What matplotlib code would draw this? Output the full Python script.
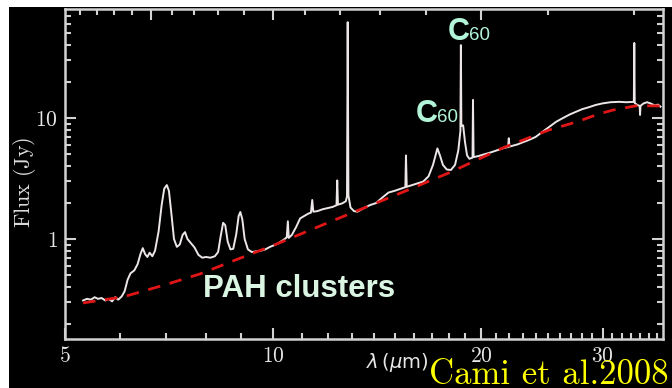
import numpy as np
import matplotlib.pyplot as plt
from matplotlib.patches import Rectangle
from matplotlib.ticker import FixedLocator, FixedFormatter, NullFormatter

plt.rcParams['mathtext.fontset'] = 'cm'

# IRS spectrum of Tc 1: wavelength (micron) and flux (Jy)
wave = [5.31, 5.38, 5.45, 5.52, 5.58, 5.65, 5.72, 5.78, 5.85, 5.91, 5.97, 6.04,
        6.10, 6.16, 6.22, 6.30, 6.37, 6.43, 6.48, 6.53, 6.58, 6.63, 6.69, 6.75,
        6.83, 6.90, 6.96, 7.02, 7.07, 7.13, 7.19, 7.26, 7.33, 7.40, 7.46, 7.52,
        7.60, 7.70, 7.80, 7.90, 8.00, 8.12, 8.24, 8.33, 8.40, 8.47, 8.53, 8.60,
        8.68, 8.76, 8.85, 8.92, 8.97, 9.03, 9.10, 9.20, 9.32, 9.45, 9.60, 9.75,
        9.90, 10.05, 10.20, 10.35, 10.47, 10.51, 10.54, 10.65, 10.80, 10.95,
        11.10, 11.25, 11.35, 11.40, 11.44, 11.60, 11.80, 12.00, 12.20, 12.36,
        12.39, 12.42, 12.60, 12.75, 12.80, 12.83, 12.86, 12.95, 13.10, 13.25,
        13.50, 13.80, 14.10, 14.40, 14.70, 15.00, 15.30, 15.55, 15.58, 15.62,
        16.00, 16.50, 16.80, 17.05, 17.30, 17.45, 17.62, 17.85, 18.10, 18.35,
        18.55, 18.68, 18.71, 18.74, 18.85, 18.97, 19.10, 19.25, 19.45, 19.48,
        19.52, 19.85, 20.20, 20.55, 21.10, 21.60, 21.90, 21.95, 22.00, 22.60,
        23.00, 23.50, 24.00, 24.50, 25.10, 25.70, 26.30, 26.90, 27.40, 28.00,
        28.70, 29.30, 30.00, 30.80, 31.70, 32.50, 33.30, 33.35, 33.40, 33.70,
        33.95, 34.00, 34.05, 34.40, 34.80, 35.20, 35.70, 36.10, 36.40]
flux = [0.31, 0.32, 0.315, 0.33, 0.32, 0.325, 0.31, 0.32, 0.305, 0.33, 0.315, 0.335,
        0.37, 0.46, 0.52, 0.55, 0.62, 0.75, 0.84, 0.75, 0.71, 0.77, 0.72, 0.80,
        1.15, 1.9, 2.6, 2.79, 2.5, 1.6, 1.0, 0.86, 0.90, 1.08, 1.14, 1.0,
        0.93, 0.85, 0.74, 0.70, 0.71, 0.70, 0.72, 0.78, 1.05, 1.36, 1.3, 0.95,
        0.82, 0.83, 1.1, 1.55, 1.67, 1.45, 1.0, 0.82, 0.78, 0.79, 0.80, 0.82,
        0.86, 0.89, 0.93, 0.98, 1.03, 1.40, 1.02, 1.08, 1.25, 1.48,
        1.55, 1.62, 1.65, 2.10, 1.68, 1.70, 1.76, 1.80, 1.84, 1.90,
        3.05, 1.92, 1.97, 2.05, 2.25, 62.0, 2.3, 1.82, 1.70, 1.68,
        1.78, 1.90, 1.98, 2.2, 2.42, 2.50, 2.60, 2.68, 4.9, 2.70,
        2.82, 2.98, 3.3, 4.1, 5.6, 4.9, 4.1, 3.75, 3.72, 4.1,
        5.4, 7.8, 40.0, 8.6, 8.7, 6.3, 4.9, 4.6, 4.7, 14.1,
        4.75, 4.85, 5.0, 5.14, 5.4, 5.65, 5.76, 6.8, 5.8, 6.05,
        6.3, 6.6, 6.97, 7.6, 8.4, 9.3, 10.0, 10.7, 11.2, 11.8,
        12.3, 12.8, 13.2, 13.5, 13.6, 13.5, 13.6, 41.7, 13.3, 12.8,
        12.6, 10.6, 12.6, 13.2, 13.5, 13.2, 12.7, 12.9, 12.4]

# dust continuum
cont_wave = [5.31, 6.07, 7.0, 7.84, 9.0, 10.13, 12.0, 15.42, 18.1, 21.5, 25.1,
             27.5, 29.5, 31.0, 33.5, 36.4]
cont_flux = [0.296, 0.332, 0.42, 0.514, 0.70, 0.909, 1.36, 2.44, 3.58, 5.65, 7.96,
             9.27, 10.7, 11.6, 12.6, 12.6]

x_major = [5, 10, 20, 30]
x_minor = [w for w in range(6, 37) if w not in x_major]
y_major = [1, 10]
y_minor = [0.2, 0.3, 0.4, 0.5, 0.6, 0.7, 0.8, 0.9,
           2, 3, 4, 5, 6, 7, 8, 9, 20, 30, 40, 50, 60, 70]
# wavenumber ticks (cm^-1) along the top edge
k_major = [1500, 1000, 500]
k_minor = [k for k in range(300, 2000, 100) if k not in k_major]

fg = '#d2d2d2'
txt = '#e6e6e6'

fig = plt.figure(figsize=(6.72, 3.88), dpi=100, facecolor='white')
fig.patches.append(Rectangle((9 / 672, 0), 1, 381 / 388, transform=fig.transFigure,
                             facecolor='black', edgecolor='none', zorder=-10))

ax = fig.add_axes([65 / 672, 49 / 388, 598 / 672, 330 / 388])
ax.set_facecolor('black')
ax.set_xscale('log')
ax.set_yscale('log')
ax.set_xlim(5, 36.7)
ax.set_ylim(0.149, 79.6)

ax.plot(wave, flux, color='#ece6e6', lw=1.4, zorder=3)
ax.plot(cont_wave, cont_flux, color='#e01515', lw=2.0, dashes=(4.5, 3.5), zorder=4)

for s in ax.spines.values():
    s.set_color(fg)
    s.set_linewidth(1.8)

ax.xaxis.set_major_locator(FixedLocator(x_major))
ax.xaxis.set_major_formatter(FixedFormatter([r'$\mathrm{%d}$' % v for v in x_major]))
ax.xaxis.set_minor_locator(FixedLocator(x_minor))
ax.xaxis.set_minor_formatter(NullFormatter())
ax.yaxis.set_major_locator(FixedLocator(y_major))
ax.yaxis.set_major_formatter(FixedFormatter([r'$\mathrm{%d}$' % v for v in y_major]))
ax.yaxis.set_minor_locator(FixedLocator(y_minor))
ax.yaxis.set_minor_formatter(NullFormatter())

ax.tick_params(which='both', direction='in', color=fg, width=1.5,
               top=False, right=True, labelcolor=txt, labelsize=15.5)
ax.tick_params(axis='x', which='both', pad=5)
ax.tick_params(axis='y', which='both', pad=5)
ax.tick_params(which='major', length=8)
ax.tick_params(which='minor', length=4.5)

top = ax.twiny()
top.set_xscale('log')
top.set_xlim(ax.get_xlim())
top.xaxis.set_major_locator(FixedLocator([1e4 / k for k in k_major]))
top.xaxis.set_minor_locator(FixedLocator([1e4 / k for k in k_minor]))
top.xaxis.set_major_formatter(NullFormatter())
top.xaxis.set_minor_formatter(NullFormatter())
top.tick_params(which='both', direction='in', color=fg, width=1.5)
top.tick_params(which='major', length=8)
top.tick_params(which='minor', length=4.5)
for s in top.spines.values():
    s.set_visible(False)

fig.text(25 / 672, 1 - 182 / 388, r'$\mathrm{Flux\ (Jy)}$', color='#dcdcdc',
         fontsize=16, rotation=90, ha='center', va='center')

fig.text(397 / 672, 1 - 363 / 388, r'$\lambda\,(\mu$m$)$', color=txt, fontsize=14,
         math_fontfamily='dejavusans', ha='center', va='center')

# species labels
mint = '#b2f4d8'
fig.text(448 / 672, 1 - 40 / 388, 'C', family='Liberation Sans', weight='bold',
         fontsize=22, color=mint, ha='left', va='baseline')
fig.text(469 / 672, 1 - 40 / 388, '60', family='Liberation Sans',
         fontsize=13.5, color=mint, ha='left', va='baseline')
fig.text(416 / 672, 1 - 122 / 388, 'C', family='Liberation Sans', weight='bold',
         fontsize=22, color=mint, ha='left', va='baseline')
fig.text(437 / 672, 1 - 122 / 388, '60', family='Liberation Sans',
         fontsize=13.5, color=mint, ha='left', va='baseline')
fig.text(203 / 672, 1 - 297 / 388, 'PAH clusters', family='Liberation Sans',
         weight='bold', fontsize=22.5, color='#daf6e2', ha='left', va='baseline')

fig.text(429 / 672, 1 - 384 / 388, 'Cami et al.2008', family='cmr10', color='#ffff00',
         fontsize=25, ha='left', va='baseline')

fig.savefig('out.png', dpi=100, facecolor=fig.get_facecolor())
